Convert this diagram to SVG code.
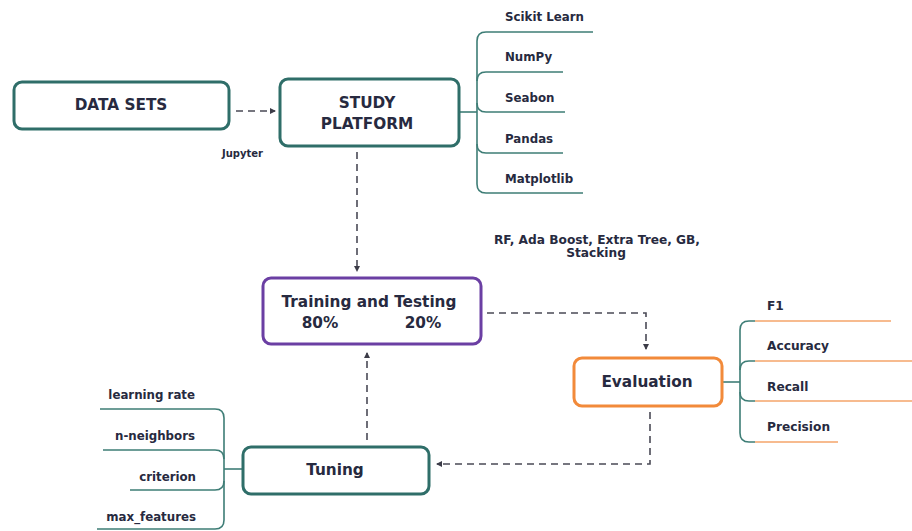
<svg xmlns="http://www.w3.org/2000/svg" width="912" height="531" viewBox="0 0 912 531">
<defs>
<marker id="ah" viewBox="0 0 6 6" refX="5" refY="3" markerWidth="6" markerHeight="6" markerUnits="userSpaceOnUse" orient="auto">
<path d="M0,0 L6,3 L0,6 Z" fill="#3c3c48"/>
</marker>
<style>
.box{fill:#fff;stroke-width:3}
.teal{stroke:#2f6e69}
.purple{stroke:#6b3fa3}
.orange{stroke:#f28a3a}
.t{font-family:"DejaVu Sans","Liberation Sans",sans-serif;font-weight:700;fill:#272a40}
.big{font-size:15.3px}
.sm{font-size:11.8px}
.md{font-size:12.2px}
.xs{font-size:10px}
.dash{fill:none;stroke:#4a4a56;stroke-width:1.6;stroke-dasharray:7 5;marker-end:url(#ah)}
.br{fill:none;stroke:#3e7d76;stroke-width:1.6}
.bo{fill:none;stroke:#f4a56a;stroke-width:1.6}
</style>
</defs>
<rect width="912" height="531" fill="#fff"/>

<g id="connectors">
<path class="dash" d="M236,111 H275"/>
<path class="dash" d="M357,152 V271"/>
<path class="dash" d="M487,313 H646 V349"/>
<path class="dash" d="M650,412 V464 H437"/>
<path class="dash" d="M367,440 V353"/>
<!-- study platform tree -->
<path class="br" d="M459,112 H477"/>
<path class="br" d="M593,32 H486 Q477,32 477,41 V184 Q477,193 486,193 H583"/>
<path class="br" d="M563,72 H486 Q477,72 477,81"/>
<path class="br" d="M477,103 Q477,112 486,112 H565"/>
<path class="br" d="M563,153 H486 Q477,153 477,144"/>
<!-- evaluation tree -->
<path class="br" d="M722,382 H740"/>
<path class="br" d="M755,321 H749 Q740,321 740,330 V433 Q740,442 749,442 H755"/>
<path class="br" d="M755,361 H749 Q740,361 740,370"/>
<path class="br" d="M740,392 Q740,401 749,401 H755"/>
<path class="bo" d="M755,321 H891"/>
<path class="bo" d="M755,361 H912"/>
<path class="bo" d="M755,401 H912"/>
<path class="bo" d="M755,442 H838"/>
<!-- tuning tree -->
<path class="br" d="M243,469 H224"/>
<path class="br" d="M100,409 H215 Q224,409 224,418 V520 Q224,529 215,529 H97"/>
<path class="br" d="M103,450 H215 Q224,450 224,459"/>
<path class="br" d="M224,481 Q224,490 215,490 H130"/>
</g>

<g id="data-sets">
<rect class="box teal" x="14" y="82" width="215" height="47" rx="8"/>
<text class="t big" x="121" y="110" text-anchor="middle">DATA SETS</text>
</g>
<text class="t xs" x="222" y="157">Jupyter</text>

<g id="study-platform">
<rect class="box teal" x="280" y="79" width="179" height="67" rx="8"/>
<text class="t big" x="367" y="108" text-anchor="middle">STUDY</text>
<text class="t big" x="367" y="129" text-anchor="middle">PLATFORM</text>
</g>
<g id="libs">
<text class="t sm" x="505" y="21">Scikit Learn</text>
<text class="t sm" x="505" y="61">NumPy</text>
<text class="t sm" x="505" y="102">Seabon</text>
<text class="t sm" x="505" y="143">Pandas</text>
<text class="t sm" x="505" y="183">Matplotlib</text>
</g>

<g id="models">
<text class="t md" x="597" y="244" text-anchor="middle">RF, Ada Boost, Extra Tree, GB,</text>
<text class="t md" x="596" y="257" text-anchor="middle">Stacking</text>
</g>

<g id="training-testing">
<rect class="box purple" x="263" y="278" width="218" height="66" rx="8"/>
<text class="t big" x="369" y="307" text-anchor="middle">Training and Testing</text>
<text class="t big" x="320" y="328" text-anchor="middle">80%</text>
<text class="t big" x="423" y="328" text-anchor="middle">20%</text>
</g>

<g id="evaluation">
<rect class="box orange" x="574" y="358" width="148" height="48" rx="8"/>
<text class="t big" x="647" y="387" text-anchor="middle">Evaluation</text>
</g>
<g id="metrics">
<text class="t md" x="767" y="310">F1</text>
<text class="t md" x="767" y="350">Accuracy</text>
<text class="t md" x="767" y="391">Recall</text>
<text class="t md" x="767" y="431">Precision</text>
</g>

<g id="tuning">
<rect class="box teal" x="243" y="447" width="186" height="47" rx="8"/>
<text class="t big" x="335" y="475" text-anchor="middle">Tuning</text>
</g>
<g id="params">
<text class="t sm" x="195" y="399" text-anchor="end">learning rate</text>
<text class="t sm" x="195" y="440" text-anchor="end">n-neighbors</text>
<text class="t sm" x="196" y="481" text-anchor="end">criterion</text>
<text class="t sm" x="196" y="521" text-anchor="end">max_features</text>
</g>
</svg>
